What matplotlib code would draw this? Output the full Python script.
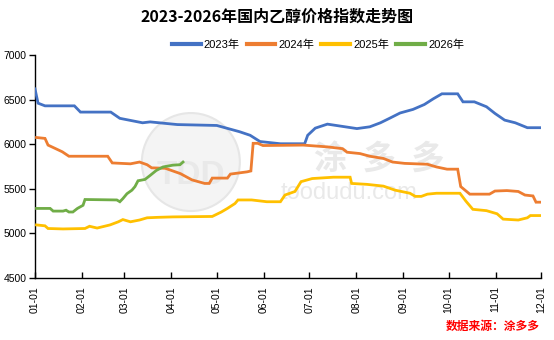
import matplotlib
matplotlib.use("Agg")
import matplotlib.pyplot as plt
from matplotlib.patches import Ellipse

plt.rcParams['font.family'] = ['Liberation Sans', 'Noto Sans CJK SC']

# Day-of-year breakpoints and price index values for each year
days_2023 = [0, 2, 6.6, 26, 30, 50, 56, 71, 76, 94, 120, 135, 142, 148.5, 162, 178,
             180, 185, 193, 212.5, 221, 228, 234, 241, 249.5, 257, 263, 268.6, 279,
             282.5, 290, 298, 303.6, 310, 317, 325, 334]
vals_2023 = [6620, 6460, 6430, 6430, 6360, 6360, 6290, 6240, 6250, 6220, 6210, 6140,
             6100, 6030, 6005, 6005, 6100, 6180, 6225, 6175, 6195, 6240, 6290, 6350,
             6390, 6445, 6510, 6565, 6565, 6475, 6475, 6420, 6345, 6270, 6240, 6185, 6185]

days_2024 = [1, 6.6, 8.6, 13, 18, 22.4, 48, 51, 63, 69, 74, 77, 86, 96, 103.6, 112,
             115, 117, 127, 129, 140, 142.5, 144, 147, 150.5, 177, 193, 203, 206,
             214.5, 221, 230, 236, 244, 259, 265, 272, 279, 281, 287, 300, 303.6,
             311.5, 319, 323.4, 328.7, 330.7, 334]
vals_2024 = [6075, 6065, 5990, 5955, 5915, 5865, 5865, 5790, 5780, 5800, 5770, 5735,
             5730, 5670, 5600, 5560, 5560, 5620, 5620, 5665, 5690, 5700, 6010, 6010,
             5985, 5990, 5970, 5950, 5910, 5895, 5865, 5840, 5800, 5785, 5775, 5745,
             5720, 5720, 5525, 5440, 5440, 5475, 5480, 5470, 5430, 5420, 5350, 5350]

days_2025 = [1, 6.6, 8.6, 18.5, 33, 36, 41, 49.5, 55, 58, 63, 69, 74, 81, 91, 117,
             123, 127, 132, 134, 143, 153, 162, 165, 171.6, 175.6, 183, 197, 208, 209,
             219, 230, 237.6, 247.5, 251, 255, 259, 265, 280.5, 284.5, 289, 298, 305,
             309, 319, 325, 327, 334]
vals_2025 = [5095, 5085, 5055, 5050, 5055, 5080, 5060, 5095, 5130, 5155, 5130, 5150,
             5175, 5180, 5185, 5190, 5240, 5280, 5335, 5375, 5375, 5355, 5355, 5430,
             5470, 5580, 5615, 5630, 5630, 5560, 5550, 5530, 5485, 5450, 5415, 5415,
             5440, 5450, 5450, 5360, 5270, 5255, 5220, 5160, 5150, 5175, 5200, 5200]

days_2026 = [1, 10, 12, 18.5, 20.5, 22.4, 25, 28, 31.7, 33, 54, 56, 58, 60.7, 64, 66,
             68, 72.6, 76, 80, 84.5, 91, 95.7, 97.7]
vals_2026 = [5280, 5280, 5250, 5250, 5260, 5240, 5240, 5280, 5315, 5380, 5375, 5355,
             5390, 5445, 5485, 5525, 5590, 5605, 5650, 5705, 5745, 5765, 5770, 5800]

series_labels = ['2023年', '2024年', '2025年', '2026年']
series_colors = ['#4472C4', '#ED7D31', '#FFC000', '#70AD47']

month_days = [0, 31, 59, 90, 120, 151, 181, 212, 243, 273, 304, 334]
month_labels = ['01-01', '02-01', '03-01', '04-01', '05-01', '06-01',
                '07-01', '08-01', '09-01', '10-01', '11-01', '12-01']
y_ticks = [4500, 5000, 5500, 6000, 6500, 7000]

W, H = 554, 340
fig = plt.figure(figsize=(W / 100, H / 100), dpi=100)
ax_w, ax_h = 541 - 35, 278 - 55
ax = fig.add_axes([35 / W, (H - 278) / H, ax_w / W, ax_h / H])

# faint watermark behind the data
wm = dict(color='#e9e9e9', zorder=0)
ax.add_patch(Ellipse((0.308, 0.52), 98 / ax_w, 98 / ax_h, transform=ax.transAxes,
                     facecolor='#f4f4f4', edgecolor='#e6e6e6', lw=1.5, zorder=0))
ax.text(0.308, 0.46, 'TDD', transform=ax.transAxes, ha='center', va='center',
        fontsize=24, fontweight='bold', **wm)
ax.text(0.68, 0.53, '涂  多  多', transform=ax.transAxes, ha='center', va='center',
        fontsize=24, fontweight='bold', family=['Noto Sans CJK SC'], **wm)
ax.text(0.62, 0.38, 'toodudu.com', transform=ax.transAxes, ha='center', va='center',
        fontsize=17, **wm)

all_days = [days_2023, days_2024, days_2025, days_2026]
all_vals = [vals_2023, vals_2024, vals_2025, vals_2026]
for d, v, lab, c in zip(all_days, all_vals, series_labels, series_colors):
    ax.plot(d, v, color=c, lw=2.0, label=lab, solid_joinstyle='miter', zorder=3)

ax.set_xlim(0, 334)
ax.set_ylim(4500, 7000)
ax.set_yticks(y_ticks)
ax.set_yticklabels([str(t) for t in y_ticks])
ax.set_xticks(month_days)
ax.set_xticklabels(month_labels, rotation=90)

for s in ['top', 'right']:
    ax.spines[s].set_visible(False)
for s in ['left', 'bottom']:
    ax.spines[s].set_linewidth(1.0)
    ax.spines[s].set_color('black')

ax.tick_params(axis='y', direction='out', length=4, width=1, labelsize=7.5, pad=2)
ax.tick_params(axis='x', direction='in', length=4, width=1, labelsize=7.5, pad=6)

fig.text(0.5, 1 - 17 / H, '2023-2026年国内乙醇价格指数走势图', ha='center', va='center',
         fontsize=11.5, fontweight='bold', family=['Noto Sans CJK SC'])

leg = fig.legend(loc='center', bbox_to_anchor=(318 / W, 1 - 45 / H), ncol=4, frameon=False,
                 handlelength=2.6, handletextpad=0.3, columnspacing=0.6,
                 prop={'family': ['Liberation Sans', 'Noto Sans CJK SC'], 'size': 8})
for line in leg.get_lines():
    line.set_linewidth(3)

fig.text(540 / W, 1 - 326 / H, '数据来源：涂多多', ha='right', va='center', color='#ff0000',
         fontsize=8.5, fontweight='bold', style='italic', family=['Noto Sans CJK SC'])

fig.savefig('out.png', dpi=100)
